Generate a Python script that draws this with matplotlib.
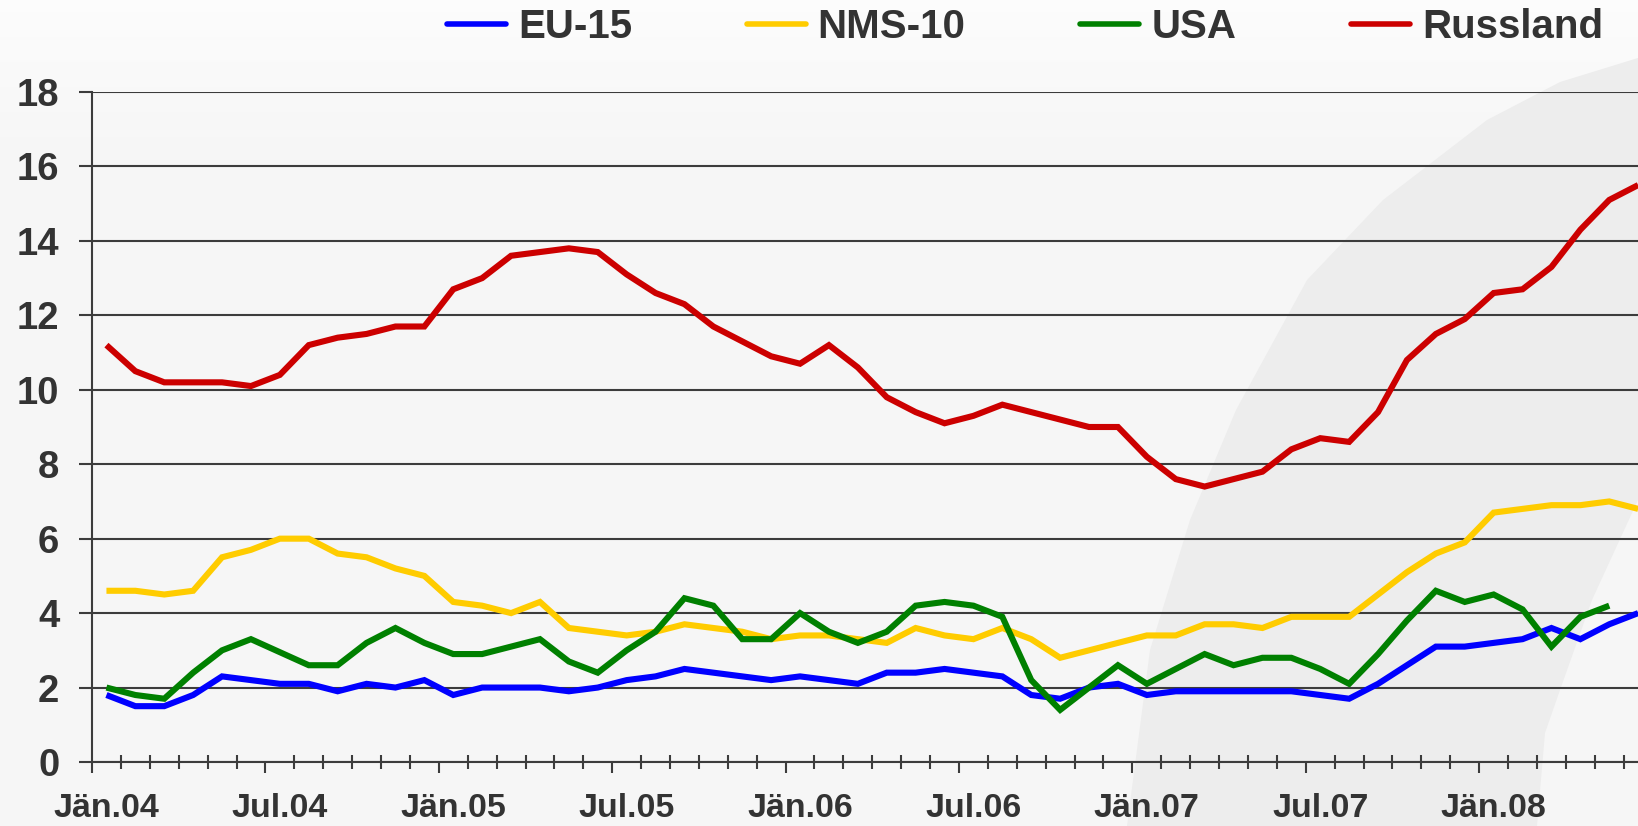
import numpy as np
import matplotlib
matplotlib.use("Agg")
import matplotlib.pyplot as plt
from matplotlib.patches import Polygon
from matplotlib.ticker import FixedLocator, NullFormatter

plt.rcParams['font.family'] = ['Liberation Sans', 'DejaVu Sans']

# ---------------- data ----------------
month_names = ["Jän", "Feb", "Mär", "Apr", "Mai", "Jun",
               "Jul", "Aug", "Sep", "Okt", "Nov", "Dez"]
years = ["04", "05", "06", "07", "08"]
categories = [f"{m}.{y}" for y in years for m in month_names][:54]  # Jän.04 .. Jun.08

eu15 = [1.8, 1.5, 1.5, 1.8, 2.3, 2.2, 2.1, 2.1, 1.9, 2.1,
        2.0, 2.2, 1.8, 2.0, 2.0, 2.0, 1.9, 2.0, 2.2, 2.3,
        2.5, 2.4, 2.3, 2.2, 2.3,
        2.2, 2.1, 2.4, 2.4, 2.5, 2.4, 2.3, 1.8, 1.7, 2.0,
        2.1, 1.8, 1.9, 1.9, 1.9, 1.9, 1.9, 1.8, 1.7, 2.1,
        2.6, 3.1, 3.1, 3.2, 3.3, 3.6, 3.3, 3.7, 4.0]

nms10 = [4.6, 4.6, 4.5, 4.6, 5.5, 5.7, 6.0, 6.0, 5.6, 5.5,
         5.2, 5.0, 4.3, 4.2, 4.0, 4.3, 3.6, 3.5, 3.4, 3.5,
         3.7, 3.6, 3.5, 3.3, 3.4,
         3.4, 3.3, 3.2, 3.6, 3.4, 3.3, 3.6, 3.3, 2.8, 3.0,
         3.2, 3.4, 3.4, 3.7, 3.7, 3.6, 3.9, 3.9, 3.9, 4.5,
         5.1, 5.6, 5.9, 6.7, 6.8, 6.9, 6.9, 7.0, 6.8]

usa = [2.0, 1.8, 1.7, 2.4, 3.0, 3.3, 2.95, 2.6, 2.6, 3.2,
       3.6, 3.2, 2.9, 2.9, 3.1, 3.3, 2.7, 2.4, 3.0, 3.5,
       4.4, 4.2, 3.3, 3.3, 4.0,
       3.5, 3.2, 3.5, 4.2, 4.3, 4.2, 3.9, 2.2, 1.4, 2.0,
       2.6, 2.1, 2.5, 2.9, 2.6, 2.8, 2.8, 2.5, 2.1, 2.9,
       3.8, 4.6, 4.3, 4.5, 4.1, 3.1, 3.9, 4.2, np.nan]

russland = [11.2, 10.5, 10.2, 10.2, 10.2, 10.1, 10.4, 11.2, 11.4, 11.5,
            11.7, 11.7, 12.7, 13.0, 13.6, 13.7, 13.8, 13.7, 13.1, 12.6,
            12.3, 11.7, 11.3, 10.9, 10.7,
            11.2, 10.6, 9.8, 9.4, 9.1, 9.3, 9.6, 9.4, 9.2, 9.0,
            9.0, 8.2, 7.6, 7.4, 7.6, 7.8, 8.4, 8.7, 8.6, 9.4,
            10.8, 11.5, 11.9, 12.6, 12.7, 13.3, 14.3, 15.1, 15.5]

series_names = ["EU-15", "NMS-10", "USA", "Russland"]
series_colors = ["#0000FF", "#FFCC00", "#008000", "#CC0000"]
y_ticks = [0, 2, 4, 6, 8, 10, 12, 14, 16, 18]
label_every = 6

# ---------------- figure ----------------
W, H = 1638, 826
fig = plt.figure(figsize=(W / 100, H / 100), dpi=100)
fig.patch.set_facecolor("#f5f5f5")

# background layer (gradient + decorative swoosh)
bg = fig.add_axes([0, 0, 1, 1], zorder=-10)
bg.set_axis_off()
bg.set_xlim(0, W)
bg.set_ylim(H, 0)
grad = np.ones((H, 1, 3))
t = np.clip(np.arange(H) / 160.0, 0, 1)[:, None]
top_c = np.array([0.99, 0.99, 0.99])
base_c = np.array([0.965, 0.965, 0.965])
grad[:, 0, :] = top_c * (1 - t) + base_c * t
bg.imshow(grad, extent=(0, W, H, 0), aspect="auto", zorder=0)
sw = [(1127, 826), (1150, 650), (1190, 520), (1236, 410), (1307, 280),
      (1383, 200), (1487, 120), (1560, 82), (1638, 58),
      (1638, 500), (1592, 600), (1560, 690), (1545, 733), (1537, 826)]
bg.add_patch(Polygon(sw, closed=True, facecolor="#ededed", edgecolor="none", zorder=1))
bg.set_xlim(0, W)
bg.set_ylim(H, 0)

n = len(categories)
left_px, bottom_px, top_px = 92, 762, 92
cat_w = 28.9
ax = fig.add_axes([left_px / W, (H - bottom_px) / H, n * cat_w / W, (bottom_px - top_px) / H],
                  zorder=1)
ax.set_facecolor("none")

x = np.arange(n)
handles = []
for name, vals, col in zip(series_names, [eu15, nms10, usa, russland], series_colors):
    h, = ax.plot(x, vals, color=col, lw=4.4, solid_joinstyle="miter", solid_capstyle="butt",
                 label=name, zorder=3)
    handles.append(h)

ax.set_xlim(-0.5, n - 0.5)
ax.set_ylim(0, 18)

grid_col = "#3c3c3c"
text_col = "#333333"
ax.set_yticks(y_ticks)
ax.set_yticklabels([str(v) for v in y_ticks])
ax.yaxis.grid(True, color=grid_col, lw=1.5, zorder=1)
ax.set_axisbelow(True)
for s in ["top", "right"]:
    ax.spines[s].set_visible(False)
for s in ["left", "bottom"]:
    ax.spines[s].set_color(grid_col)
    ax.spines[s].set_linewidth(1.5)
ax.tick_params(axis="y", direction="out", length=9.5, width=1.5, color=grid_col,
               pad=14, labelsize=27.5, labelcolor=text_col)
for tl in ax.get_yticklabels():
    tl.set_fontweight("bold")

# x ticks: major (every 6 boundaries, outside), minor (each boundary, crossing)
bounds = np.arange(n + 1) - 0.5
major_b = bounds[::label_every]
minor_b = [b for i, b in enumerate(bounds) if i % label_every != 0]
ax.xaxis.set_major_locator(FixedLocator(major_b))
ax.xaxis.set_major_formatter(NullFormatter())
ax.xaxis.set_minor_locator(FixedLocator(minor_b))
ax.tick_params(axis="x", which="major", direction="out", length=8, width=1.5, color=grid_col)
ax.tick_params(axis="x", which="minor", direction="inout", length=10, width=1.5, color=grid_col)

# labels on secondary axis at category centres
sec = ax.secondary_xaxis("bottom")
lab_pos = x[::label_every]
sec.set_xticks(lab_pos)
sec.set_xticklabels([categories[i] for i in lab_pos])
sec.tick_params(axis="x", length=0, pad=22, labelsize=24.5, labelcolor=text_col)
sec.spines["bottom"].set_visible(False)
for tl in sec.get_xticklabels():
    tl.set_fontweight("bold")

leg = fig.legend(handles=handles, loc="center left", bbox_to_anchor=(447 / W, 1 - 27 / H),
                 ncol=4, frameon=False, borderpad=0, borderaxespad=0,
                 handlelength=1.46, handletextpad=0.3, columnspacing=2.85,
                 prop={"size": 29, "weight": "bold"})
for tl in leg.get_texts():
    tl.set_color(text_col)
for lh in leg.get_lines():
    lh.set_linewidth(4.0)
    lh.set_solid_capstyle("round")

fig.savefig("out.png", dpi=100, facecolor=fig.get_facecolor())
